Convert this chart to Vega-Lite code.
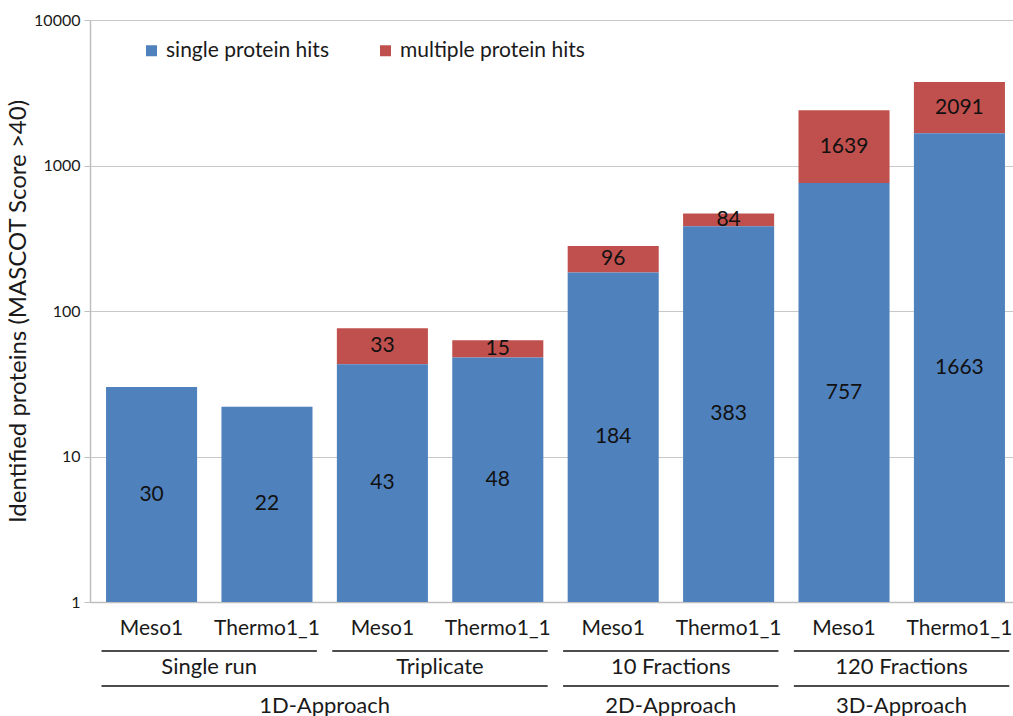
{
  "$schema": "https://vega.github.io/schema/vega-lite/v6.json",
  "padding": {"left": 6, "top": 12, "right": 0, "bottom": 0},
  "background": "white",
  "config": {"view": {"stroke": null}, "font": "Lato", "text": {"font": "Lato"}},
  "datasets": {
    "bars": [
      {"id": "Single run|Meso1", "sub": "Single run", "app": "1D-Approach", "idx": 0, "series": "single protein hits", "value": 30},
      {"id": "Single run|Thermo1_1", "sub": "Single run", "app": "1D-Approach", "idx": 1, "series": "single protein hits", "value": 22},
      {"id": "Triplicate|Meso1", "sub": "Triplicate", "app": "1D-Approach", "idx": 2, "series": "single protein hits", "value": 43},
      {"id": "Triplicate|Meso1", "sub": "Triplicate", "app": "1D-Approach", "idx": 2, "series": "multiple protein hits", "value": 33},
      {"id": "Triplicate|Thermo1_1", "sub": "Triplicate", "app": "1D-Approach", "idx": 3, "series": "single protein hits", "value": 48},
      {"id": "Triplicate|Thermo1_1", "sub": "Triplicate", "app": "1D-Approach", "idx": 3, "series": "multiple protein hits", "value": 15},
      {"id": "10 Fractions|Meso1", "sub": "10 Fractions", "app": "2D-Approach", "idx": 4, "series": "single protein hits", "value": 184},
      {"id": "10 Fractions|Meso1", "sub": "10 Fractions", "app": "2D-Approach", "idx": 4, "series": "multiple protein hits", "value": 96},
      {"id": "10 Fractions|Thermo1_1", "sub": "10 Fractions", "app": "2D-Approach", "idx": 5, "series": "single protein hits", "value": 383},
      {"id": "10 Fractions|Thermo1_1", "sub": "10 Fractions", "app": "2D-Approach", "idx": 5, "series": "multiple protein hits", "value": 84},
      {"id": "120 Fractions|Meso1", "sub": "120 Fractions", "app": "3D-Approach", "idx": 6, "series": "single protein hits", "value": 757},
      {"id": "120 Fractions|Meso1", "sub": "120 Fractions", "app": "3D-Approach", "idx": 6, "series": "multiple protein hits", "value": 1639},
      {"id": "120 Fractions|Thermo1_1", "sub": "120 Fractions", "app": "3D-Approach", "idx": 7, "series": "single protein hits", "value": 1663},
      {"id": "120 Fractions|Thermo1_1", "sub": "120 Fractions", "app": "3D-Approach", "idx": 7, "series": "multiple protein hits", "value": 2091}
    ]
  },
  "vconcat": [
    {
      "width": 931,
      "height": 582,
      "data": {"name": "bars"},
      "transform": [
        {"stack": "value", "groupby": ["id"], "sort": [{"field": "series", "order": "descending"}], "as": ["lo", "hi"]},
        {"calculate": "sqrt(max(datum.lo, 1) * datum.hi)", "as": "labelPos"}
      ],
      "encoding": {
        "x": {
          "field": "id", "type": "nominal", "sort": {"field": "idx", "op": "min"},
          "scale": {"paddingInner": 0.211, "paddingOuter": 0.139},
          "axis": {"title": null, "labelExpr": "split(datum.label, '|')[1]", "labelAngle": 0, "labelFontSize": 21, "labelColor": "#1a1a1a", "labelPadding": 15, "ticks": false, "domainColor": "#BFBFBF", "domainWidth": 1.5, "grid": false}
        }
      },
      "layer": [
        {
          "transform": [{"filter": "datum.series == 'multiple protein hits'"}],
          "mark": {"type": "bar"},
          "encoding": {
            "y": {"field": "hi", "type": "quantitative",
              "scale": {"type": "log", "domain": [1, 10000], "nice": false},
              "axis": {"title": "Identified proteins (MASCOT Score >40)", "titleFontSize": 24, "titleFontWeight": "normal", "titleColor": "#1a1a1a", "titlePadding": 3,
                "values": [1, 10, 100, 1000, 10000], "format": "d", "labelFontSize": 16, "labelColor": "#1a1a1a", "labelPadding": 4,
                "tickSize": 6, "tickColor": "#BFBFBF", "domainColor": "#BFBFBF", "domainWidth": 1.5, "gridColor": "#C8C8C8", "gridWidth": 1.2}},
            "y2": {"field": "lo"},
            "color": {"field": "series", "type": "nominal",
              "scale": {"domain": ["single protein hits", "multiple protein hits"], "range": ["#4F81BD", "#C0504D"]},
              "legend": {"title": null, "orient": "none", "legendX": 51, "legendY": 20, "direction": "horizontal", "symbolType": "square", "symbolSize": 121, "symbolStrokeWidth": 0, "labelFontSize": 21, "labelLimit": 400, "labelColor": "#1a1a1a", "labelOffset": 4, "columnPadding": 46, "padding": 0}}
          }
        },
        {
          "transform": [{"filter": "datum.series == 'single protein hits'"}],
          "mark": {"type": "bar"},
          "encoding": {
            "y": {"field": "hi", "type": "quantitative"},
            "y2": {"datum": 1},
            "color": {"field": "series", "type": "nominal"}
          }
        },
        {
          "mark": {"type": "text", "fontSize": 21, "color": "#111111", "baseline": "middle"},
          "encoding": {
            "y": {"field": "labelPos", "type": "quantitative"},
            "text": {"field": "value", "type": "quantitative"}
          }
        }
      ]
    },
    {
      "width": 931,
      "height": 72,
      "data": {"name": "bars"},
      "transform": [{"filter": "datum.series == 'single protein hits'"}],
      "encoding": {
        "y": {"datum": 1, "type": "quantitative", "scale": {"domain": [0, 4], "reverse": true, "nice": false}, "axis": null}
      },
      "layer": [
        {
          "mark": {"type": "rule", "color": "#111111", "strokeWidth": 1.5, "xOffset": -50, "x2Offset": 50, "yOffset": -5},
          "encoding": {
            "x": {"aggregate": "min", "field": "idx", "type": "quantitative", "scale": {"domain": [-0.533, 7.535], "nice": false, "zero": false}, "axis": null},
            "x2": {"aggregate": "max", "field": "idx"},
            "detail": {"field": "sub", "type": "nominal"},
            "y": {"datum": 1, "type": "quantitative"}
          }
        },
        {
          "mark": {"type": "text", "fontSize": 22, "color": "#1a1a1a", "baseline": "middle", "yOffset": -7},
          "encoding": {
            "x": {"aggregate": "mean", "field": "idx", "type": "quantitative"},
            "text": {"field": "sub", "type": "nominal"},
            "y": {"datum": 2, "type": "quantitative"}
          }
        },
        {
          "mark": {"type": "rule", "color": "#111111", "strokeWidth": 1.5, "xOffset": -50, "x2Offset": 50, "yOffset": -6},
          "encoding": {
            "x": {"aggregate": "min", "field": "idx", "type": "quantitative"},
            "x2": {"aggregate": "max", "field": "idx"},
            "detail": {"field": "app", "type": "nominal"},
            "y": {"datum": 3, "type": "quantitative"}
          }
        },
        {
          "mark": {"type": "text", "fontSize": 22, "color": "#1a1a1a", "baseline": "middle", "yOffset": -4},
          "encoding": {
            "x": {"aggregate": "mean", "field": "idx", "type": "quantitative"},
            "text": {"field": "app", "type": "nominal"},
            "y": {"datum": 4, "type": "quantitative"}
          }
        }
      ],
      "resolve": {"scale": {"x": "shared", "y": "shared"}}
    }
  ],
  "resolve": {"scale": {"x": "independent", "y": "independent", "color": "shared"}},
  "spacing": 0
}
